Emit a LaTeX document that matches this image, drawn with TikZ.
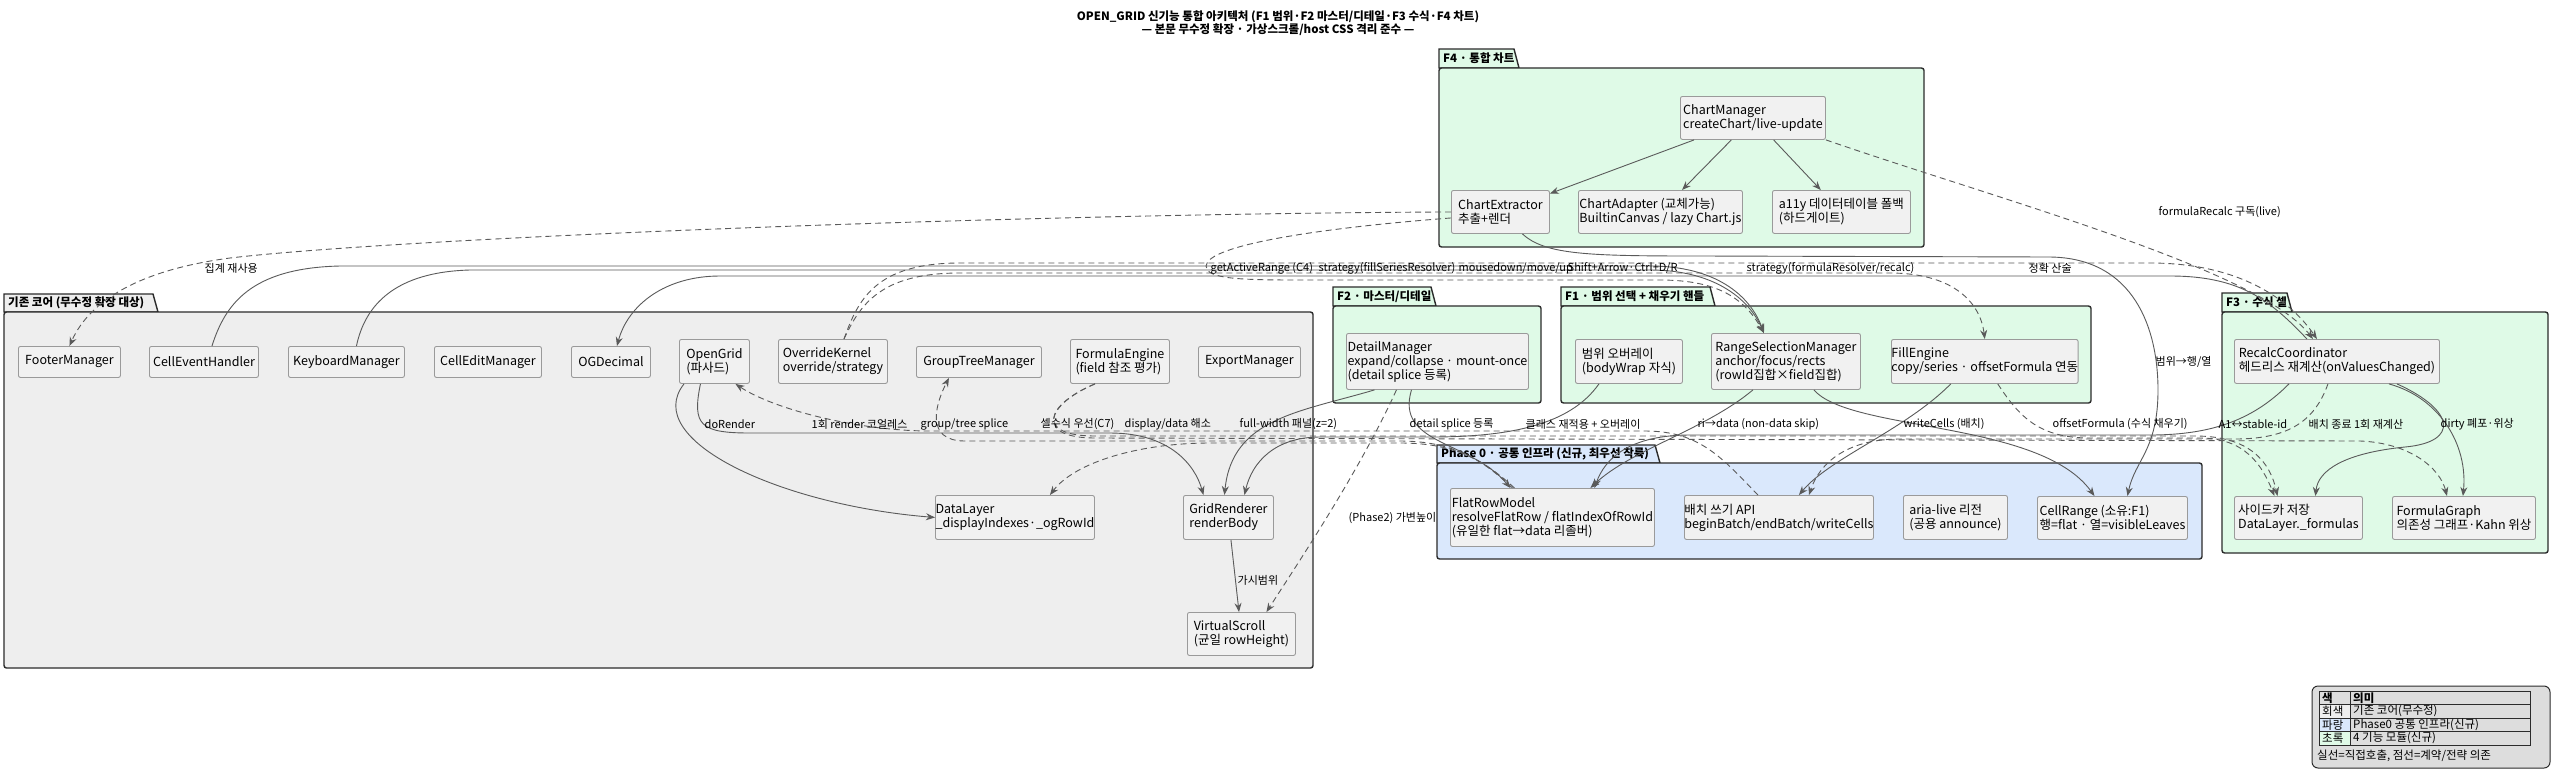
\documentclass[tikz,border=0pt]{standalone}
\usepackage{fontspec}
\setmainfont{Noto Sans CJK KR}
\usetikzlibrary{arrows.meta}
\definecolor{edgec}{HTML}{5A5A5A}
\definecolor{boxfill}{HTML}{F1F1F1}
\definecolor{boxdraw}{HTML}{9A9A9A}
\definecolor{coregray}{HTML}{EEEEEE}
\definecolor{infblue}{HTML}{DAE8FC}
\definecolor{featgreen}{HTML}{DFFAE7}
\definecolor{pkgdraw}{HTML}{2B2B2B}
\definecolor{legbg}{HTML}{DDDDDD}
\tikzset{
 box/.style={draw=boxdraw, fill=boxfill, line width=0.9pt, rounded corners=2pt, align=left, inner sep=0pt, font=\fontsize{12.5}{14}\selectfont, anchor=north west},
 call/.style={draw=edgec, line width=0.9pt, -{Stealth[length=9pt,width=7pt,inset=3pt]}},
 dep/.style={call, dash pattern=on 6pt off 4pt},
 lbl/.style={font=\fontsize{11}{13}\selectfont, inner sep=0.5pt, text=black, anchor=west},
 pkgline/.style={draw=pkgdraw, line width=1.4pt},
 pkgtitle/.style={font=\bfseries\fontsize{11.5}{13}\selectfont, inner sep=0pt, anchor=west},
 legtxt/.style={font=\fontsize{11.5}{13}\selectfont, inner sep=0pt, anchor=west},
}
\newcommand\cbox[6]{\node[box,minimum width={#4-#2},minimum height={#5-#3}] (#1) at (#2,#3) {#6};}
\newcommand\pkg[9]{%
 \filldraw[pkgline,fill=#8] (#2,#5) -- (#2,#3) -- ({#4-5},#3) -- (#4,#5) -- cycle;
 \filldraw[pkgline,fill=#8,rounded corners=2.5pt] (#2,#5) rectangle (#6,#7);
 \node[pkgtitle] (#1) at ({#2+4},{(#3+#5)/2}) {#9};}
\begin{document}
\begin{tikzpicture}[x=1pt,y=-1pt]
\useasboundingbox (0,0) rectangle (2560,780);
\fill[white] (0,0) rectangle (2560,780);
% title
\node[font=\bfseries\fontsize{11.5}{13}\selectfont, align=center] (title) at (1278,23) {OPEN\_GRID 신기능 통합 아키텍처 (F1 범위·F2 마스터/디테일·F3 수식·F4 차트)\\— 본문 무수정 확장 · 가상스크롤/host CSS 격리 준수 —};
% packages
\pkg{pkCore}{4}{294}{158}{312}{1313}{668}{coregray}{기존 코어 (무수정 확장 대상)}
\pkg{pkFfour}{1439}{49}{1519}{68}{1924}{247}{featgreen}{F4 · 통합 차트}
\pkg{pkFtwo}{1333}{287}{1436}{306}{1541}{403}{featgreen}{F2 · 마스터/디테일}
\pkg{pkFone}{1561}{287}{1715}{306}{2091}{403}{featgreen}{F1 · 범위 선택 + 채우기 핸들}
\pkg{pkFthree}{2222}{293}{2292}{312}{2548}{553}{featgreen}{F3 · 수식 셀}
\pkg{pkPzero}{1437}{445}{1660}{463}{2202}{559}{infblue}{Phase 0 · 공통 인프라 (신규, 최우선 착륙)}
% nodes
\cbox{ChartManager}{1680}{96}{1825}{139}{ChartManager\\createChart/live-update}
\cbox{ChartExtractor}{1451}{190}{1549}{233}{ChartExtractor\\추출+렌더}
\cbox{ChartAdapter}{1578}{190}{1742}{233}{ChartAdapter (교체가능)\\BuiltinCanvas / lazy Chart.js}
\cbox{Ally}{1772}{190}{1910}{233}{a11y 데이터테이블 폴백\\(하드게이트)}
\cbox{FooterManager}{18}{346}{120}{377}{FooterManager}
\cbox{CellEventHandler}{149}{346}{258}{377}{CellEventHandler}
\cbox{KeyboardManager}{288}{346}{404}{377}{KeyboardManager}
\cbox{CellEditManager}{434}{346}{541}{377}{CellEditManager}
\cbox{OGDecimal}{571}{346}{650}{377}{OGDecimal}
\cbox{OpenGrid}{679}{339}{749}{383}{OpenGrid\\(파사드)}
\cbox{OverrideKernel}{778}{339}{887}{383}{OverrideKernel\\override/strategy}
\cbox{GroupTreeManager}{916}{346}{1041}{377}{GroupTreeManager}
\cbox{FormulaEngine}{1070}{339}{1169}{383}{FormulaEngine\\(field 참조 평가)}
\cbox{ExportManager}{1198}{346}{1300}{377}{ExportManager}
\cbox{DataLayer}{935}{495}{1094}{539}{DataLayer\\\_displayIndexes·\_ogRowId}
\cbox{GridRenderer}{1183}{495}{1273}{539}{GridRenderer\\renderBody}
\cbox{VirtualScroll}{1187}{612}{1295}{655}{VirtualScroll\\(균일 rowHeight)}
\cbox{DetailManager}{1346}{333}{1528}{389}{DetailManager\\expand/collapse · mount-once\\(detail splice 등록)}
\cbox{RangeOverlay}{1575}{339}{1682}{383}{범위 오버레이\\(bodyWrap 자식)}
\cbox{RangeSel}{1711}{333}{1860}{389}{RangeSelectionManager\\anchor/focus/rects\\(rowId집합×field집합)}
\cbox{FillEngine}{1891}{339}{2077}{383}{FillEngine\\copy/series · offsetFormula 연동}
\cbox{Recalc}{2234}{339}{2439}{383}{RecalcCoordinator\\헤드리스 재계산(onValuesChanged)}
\cbox{Sidecar}{2234}{496}{2362}{539}{사이드카 저장\\DataLayer.\_formulas}
\cbox{FormulaGraph}{2392}{496}{2535}{539}{FormulaGraph\\의존성 그래프·Kahn 위상}
\cbox{FlatRowModel}{1450}{488}{1654}{546}{FlatRowModel\\resolveFlatRow / flatIndexOfRowId\\(유일한 flat→data 리졸버)}
\cbox{BatchAPI}{1684}{495}{1873}{539}{배치 쓰기 API\\beginBatch/endBatch/writeCells}
\cbox{AriaLive}{1903}{495}{2007}{539}{aria-live 리전\\(공용 announce)}
\cbox{CellRange}{2037}{496}{2187}{539}{CellRange (소유:F1)\\행=flat · 열=visibleLeaves}
% F4 internal
\draw[call] (ChartManager) -- (ChartExtractor);
\draw[call] (ChartManager) -- (ChartAdapter);
\draw[call] (ChartManager) -- (Ally);
\draw[dep] (ChartManager.south east) .. controls (2000,200) and (2260,270) .. ([xshift=-24pt]Recalc.north);
% top channel
\draw[dep] (ChartExtractor.west) .. controls (1000,214) and (400,238) .. (230,258) .. controls (140,270) and (90,300) .. (FooterManager.north);
\draw[dep] ([yshift=-6pt]ChartExtractor.west) .. controls (1320,228) and (1207,245) .. (1206,266) .. controls (1206,279) and (1240,280) .. (1300,280) -- (1660,280) .. controls (1720,280) and (1745,300) .. ([xshift=-22pt]RangeSel.north);
\draw[call] ([xshift=8pt]CellEventHandler.north) .. controls (225,305) and (250,268) .. (340,266) -- (1650,266) .. controls (1715,266) and (1750,295) .. ([xshift=-22pt]RangeSel.north);
\draw[call] ([xshift=10pt]KeyboardManager.north) .. controls (365,305) and (395,272) .. (470,270) -- (1650,270) .. controls (1712,270) and (1748,297) .. ([xshift=-22pt]RangeSel.north);
\draw[call] ([xshift=-30pt]Recalc.north) .. controls (2270,300) and (2240,276) .. (2170,276) -- (720,276) .. controls (665,276) and (628,305) .. ([xshift=6pt]OGDecimal.north);
\draw[dep] ([xshift=11pt]OverrideKernel.north) .. controls (860,305) and (880,273) .. (960,273) -- (1890,273) .. controls (1950,273) and (1980,300) .. (FillEngine.north);
\draw[dep] ([xshift=11pt]OverrideKernel.north) .. controls (858,300) and (875,263) .. (960,263) -- (2150,263) .. controls (2240,263) and (2290,300) .. ([xshift=-20pt]Recalc.north);
\draw[call] ([xshift=22pt]ChartExtractor.south) .. controls (1545,255) and (1590,256) .. (1700,256) -- (2050,257) .. controls (2135,258) and (2158,330) .. (2158,390) .. controls (2158,450) and (2135,460) .. ([xshift=15pt]CellRange.north);
% middle channel
\draw[call] ([xshift=5pt]OpenGrid.south west) .. controls (640,440) and (780,505) .. (DataLayer.west);
\draw[call] ([xshift=-14pt]OpenGrid.south) .. controls (692,425) and (700,433) .. (750,433) -- (1110,433) .. controls (1170,433) and (1195,465) .. ([xshift=-25pt]GridRenderer.north);
\draw[call] ([xshift=-63pt]DetailManager.south) .. controls (1300,412) and (1232,418) .. ([xshift=-4pt]GridRenderer.north);
\draw[call] ([xshift=-30pt]RangeOverlay.south) .. controls (1570,425) and (1510,437) .. (1430,437) -- (1320,437) .. controls (1275,437) and (1252,462) .. ([xshift=16pt]GridRenderer.north);
\draw[call] ([xshift=-26pt]DetailManager.south) .. controls (1395,445) and (1470,440) .. ([xshift=-42pt]FlatRowModel.north);
\draw[call] ([xshift=-33pt]RangeSel.south) .. controls (1705,430) and (1630,450) .. ([xshift=38pt]FlatRowModel.north);
\draw[call] ([xshift=28pt]RangeSel.south) .. controls (1850,432) and (2040,420) .. ([xshift=-18pt]CellRange.north);
\draw[call] ([xshift=-34pt]FillEngine.south) .. controls (1905,430) and (1830,458) .. ([xshift=20pt]BatchAPI.north);
\draw[call] ([xshift=-48pt]Recalc.south) .. controls (2255,418) and (2215,435) .. (2150,435) -- (1690,435) .. controls (1630,435) and (1605,458) .. ([xshift=42pt]FlatRowModel.north);
\draw[call] ([xshift=60pt]Recalc.south) .. controls (2455,410) and (2460,442) .. (2405,447) .. controls (2345,453) and (2318,470) .. ([xshift=17pt]Sidecar.north);
\draw[call] ([xshift=52pt]Recalc.south) .. controls (2440,398) and (2468,445) .. ([xshift=-1pt]FormulaGraph.north);
\draw[dep] ([xshift=-9pt]Recalc.south) .. controls (2315,420) and (2290,439) .. (2235,439) -- (1900,439) .. controls (1848,439) and (1820,462) .. ([xshift=30pt]BatchAPI.north);
\draw[dep] ([xshift=-21pt]BatchAPI.north) .. controls (1722,458) and (1700,431) .. (1645,431) -- (930,431) .. controls (860,431) and (775,410) .. ([xshift=21pt]OpenGrid.south);
\draw[dep] ([xshift=-40pt]FlatRowModel.north) .. controls (1485,462) and (1455,441) .. (1400,441) -- (965,441) .. controls (925,441) and (935,405) .. ([xshift=-30pt]GroupTreeManager.south);
\draw[dep] ([xshift=-38pt]FlatRowModel.north) .. controls (1482,458) and (1452,443) .. (1400,443) -- (1210,443) .. controls (1140,443) and (1075,462) .. ([xshift=35pt]DataLayer.north);
\draw[dep] ([xshift=-25pt]FormulaEngine.south) .. controls (1045,405) and (1035,436) .. (1095,436) -- (2195,436) .. controls (2250,436) and (2270,462) .. ([xshift=-21pt]Sidecar.north);
\draw[dep] ([xshift=-25pt]FormulaEngine.south) .. controls (1045,405) and (1035,438) .. (1095,438) -- (2360,441) .. controls (2410,443) and (2440,468) .. ([xshift=-17pt]FormulaGraph.north);
\draw[dep] ([xshift=13pt]FillEngine.south) .. controls (2020,418) and (2040,438) .. (2090,438) -- (2200,438) .. controls (2245,438) and (2262,465) .. ([xshift=-24pt]Sidecar.north);
\draw[dep] ([xshift=-41pt]DetailManager.south) .. controls (1360,470) and (1300,560) .. ([xshift=25pt]VirtualScroll.north);
\draw[call] (GridRenderer) -- (VirtualScroll);
% labels
\node[lbl] (lA) at (204,268) {집계 재사용};
\node[lbl] (lB) at (1210,268) {getActiveRange (C4)};
\node[lbl] (lC) at (1318,268) {strategy(fillSeriesResolver)};
\node[lbl] (lD) at (1458,268) {mousedown/move/up};
\node[lbl] (lE) at (1567,268) {Shift+Arrow·Ctrl+D/R};
\node[lbl] (lF) at (1746,268) {strategy(formulaResolver/recalc)};
\node[lbl] (lG) at (2028,268) {정확 산술};
\node[lbl] (lH) at (2158,212) {formulaRecalc 구독(live)};
\node[lbl] (lI) at (2155,362) {범위→행/열};
\node[lbl] (lJ) at (704,424) {doRender};
\node[lbl] (lK) at (811,424) {1회 render 코얼레스};
\node[lbl] (lL) at (920,424) {group/tree splice};
\node[lbl] (lM) at (1040,424) {셀수식 우선(C7)};
\node[lbl] (lN) at (1124,424) {display/data 해소};
\node[lbl] (lO) at (1239,424) {full-width 패널(z=2)};
\node[lbl] (lP) at (1409,424) {detail splice 등록};
\node[lbl] (lQ) at (1525,424) {클래스 재적용 + 오버레이};
\node[lbl] (lR) at (1697,424) {ri→data (non-data skip)};
\node[lbl] (lS) at (1903,424) {writeCells (배치)};
\node[lbl] (lT) at (2052,424) {offsetFormula (수식 채우기)};
\node[lbl] (lU) at (2218,424) {A1↔stable-id};
\node[lbl] (lV) at (2308,424) {배치 종료 1회 재계산};
\node[lbl] (lW) at (2440,424) {dirty 폐포·위상};
\node[lbl] (lX) at (1348,518) {(Phase2) 가변높이};
\node[lbl] (lY) at (1237,580) {가시범위};
% legend
\draw[draw=pkgdraw, fill=legbg, line width=1pt, rounded corners=6pt] (2312,686) rectangle (2550,768);
\fill[coregray] (2319,704.5) rectangle (2350,718);
\fill[infblue] (2319,718) rectangle (2350,731.5);
\fill[featgreen] (2319,731.5) rectangle (2350,745);
\draw[draw=pkgdraw, line width=0.9pt] (2319,691) rectangle (2530,745);
\draw[draw=pkgdraw, line width=0.9pt] (2319,704.5) -- (2530,704.5) (2319,718) -- (2530,718) (2319,731.5) -- (2530,731.5) (2350,691) -- (2350,745);
\node[legtxt,font=\bfseries\fontsize{11.5}{13}\selectfont] (lgA) at (2322,697.75) {색};
\node[legtxt,font=\bfseries\fontsize{11.5}{13}\selectfont] (lgB) at (2353,697.75) {의미};
\node[legtxt] (lgC) at (2322,711.25) {회색};
\node[legtxt] (lgD) at (2353,711.25) {기존 코어(무수정)};
\node[legtxt] (lgE) at (2322,724.75) {파랑};
\node[legtxt] (lgF) at (2353,724.75) {Phase0 공통 인프라(신규)};
\node[legtxt] (lgG) at (2322,738.25) {초록};
\node[legtxt] (lgH) at (2353,738.25) {4 기능 모듈(신규)};
\node[legtxt] (lgI) at (2317,756) {실선=직접호출, 점선=계약/전략 의존};
\end{tikzpicture}
\end{document}
